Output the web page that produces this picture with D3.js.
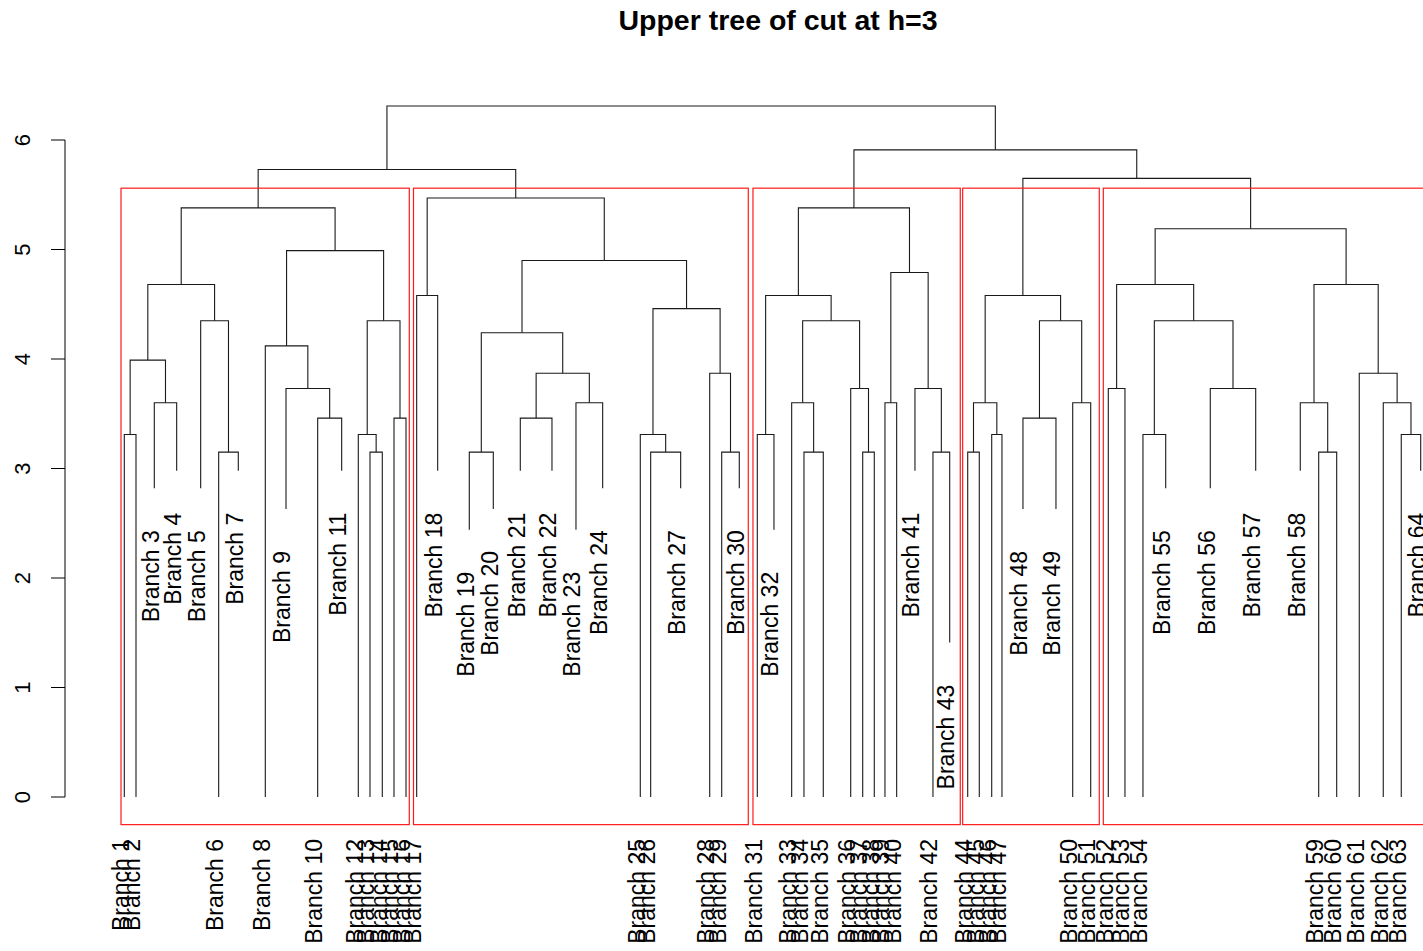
<!DOCTYPE html>
<html><head><meta charset="utf-8">
<script src="https://cdn.jsdelivr.net/npm/d3@7"></script>
<style>body{margin:0;background:#fff} svg{display:block}</style>
</head><body>
<svg id="chart" width="1423" height="951"></svg>
<script>
// ---------------- data ----------------
const chartTitle = "Upper tree of cut at h=3";
const leafNames = d3.range(1, 65).map(i => "Branch " + i);
// leaf positions along the x axis (member units)
const leafPos = [
  1.0, 2.95, 6.0, 9.73, 13.73, 16.73, 20.0, 24.5, 27.95, 33.23,
  37.23, 40.0, 41.95, 44.0, 45.95, 47.95, 49.73, 53.23, 58.5, 62.5,
  67.0, 72.28, 76.28, 80.73, 87.0, 88.73, 93.73, 98.57, 100.57, 103.5,
  106.5, 109.28, 112.23, 114.28, 117.5, 122.07, 124.07, 126.0, 127.78, 129.73,
  132.78, 135.78, 138.57, 141.57, 143.5, 145.57, 147.28, 150.78, 156.28, 159.07,
  162.07, 165.0, 167.78, 170.78, 174.57, 182.0, 189.57, 197.0, 200.07, 203.07,
  206.83, 210.83, 213.83, 217.07
];
// leaf (branch) heights
const leafHeight = [
  0, 0, 2.82, 2.98, 2.82, 0, 2.98, 0, 2.63, 0,
  2.98, 0, 0, 0, 0, 0, 0, 2.98, 2.44, 2.63,
  2.98, 2.98, 2.44, 2.82, 0, 0, 2.82, 0, 0, 2.82,
  0, 2.44, 0, 0, 0, 0, 0, 0, 0, 0,
  2.98, 0, 1.41, 0, 0, 0, 0, 2.63, 2.63, 0,
  0, 0, 0, 0, 2.82, 2.82, 2.98, 2.98, 0, 0,
  0, 0, 0, 2.98
];
// merges: [a, b, height]; negative = leaf number, positive = earlier merge number
const merges = [
  [-1, -2, 3.31], [-3, -4, 3.60], [1, 2, 3.99], [-6, -7, 3.15], [-5, 4, 4.35],
  [3, 5, 4.68], [-10, -11, 3.46], [-9, 7, 3.73], [-8, 8, 4.12], [-13, -14, 3.15],
  [-12, 10, 3.31], [-15, -16, 3.46], [11, 12, 4.35], [9, 13, 4.99], [6, 14, 5.38],
  [-17, -18, 4.58], [-19, -20, 3.15], [-21, -22, 3.46], [-23, -24, 3.60], [18, 19, 3.87],
  [17, 20, 4.24], [-26, -27, 3.15], [-25, 22, 3.31], [-29, -30, 3.15], [-28, 24, 3.87],
  [23, 25, 4.46], [21, 26, 4.90], [16, 27, 5.47], [-31, -32, 3.31], [-34, -35, 3.15],
  [-33, 30, 3.60], [-37, -38, 3.15], [-36, 32, 3.73], [31, 33, 4.35], [29, 34, 4.58],
  [-39, -40, 3.60], [-42, -43, 3.15], [-41, 37, 3.73], [36, 38, 4.79], [35, 39, 5.38],
  [-44, -45, 3.15], [-46, -47, 3.31], [41, 42, 3.60], [-48, -49, 3.46], [-50, -51, 3.60],
  [44, 45, 4.35], [43, 46, 4.58], [-52, -53, 3.73], [-54, -55, 3.31], [-56, -57, 3.73],
  [49, 50, 4.35], [48, 51, 4.68], [-59, -60, 3.15], [-58, 53, 3.60], [-63, -64, 3.31],
  [-62, 55, 3.60], [-61, 56, 3.87], [54, 57, 4.68], [52, 58, 5.19], [15, 28, 5.73],
  [47, 59, 5.65], [40, 61, 5.91], [60, 62, 6.31]
];
// cluster rectangles (x in member units) and cut height for their tops
const clusterLeft  = [0.45, 49.2, 105.78, 140.73, 164.17];
const clusterRight = [48.5, 105.0, 140.33, 163.5, 224];
const cutRectTop = 5.56;
const yTicks = [0, 1, 2, 3, 4, 5, 6];

// ---------------- layout ----------------
const svg = d3.select("#chart");
const font = "'Liberation Sans', Arial, Helvetica, sans-serif";
const x = d3.scaleLinear().domain([1, 217.07]).range([124.3, 1420.7]);
const y = d3.scaleLinear().domain([0, 6]).range([797, 140]);
const maxH = d3.max(merges, d => d[2]);
const yBottom = -0.04 * maxH;

// node positions
const nodeX = new Array(merges.length + 1);
const nodeH = new Array(merges.length + 1);
function cx(id) { return id < 0 ? x(leafPos[-id - 1]) : nodeX[id]; }
function ch(id) { return id < 0 ? leafHeight[-id - 1] : nodeH[id]; }
merges.forEach((m, i) => {
  const k = i + 1;
  nodeX[k] = (cx(m[0]) + cx(m[1])) / 2;
  nodeH[k] = m[2];
});

// title
svg.append("text")
  .attr("x", (65 + 1491) / 2).attr("y", 30)
  .attr("text-anchor", "middle")
  .attr("font-family", font).attr("font-weight", "bold").attr("font-size", 28.5)
  .attr("fill", "#000").text(chartTitle);

// y axis
const ax = svg.append("g");
ax.append("line").attr("x1", 65).attr("x2", 65)
  .attr("y1", y(6)).attr("y2", y(0)).attr("stroke", "#000").attr("stroke-width", 1);
yTicks.forEach(t => {
  ax.append("line").attr("x1", 51).attr("x2", 65).attr("y1", y(t)).attr("y2", y(t))
    .attr("stroke", "#000").attr("stroke-width", 1);
  ax.append("text")
    .attr("transform", `translate(30,${y(t)}) rotate(-90)`)
    .attr("text-anchor", "middle")
    .attr("font-family", font).attr("font-size", 22).attr("fill", "#000")
    .text(t);
});

// dendrogram edges
const g = svg.append("g").attr("fill", "none").attr("stroke", "#1a1a1a").attr("stroke-width", 1.1);
merges.forEach((m, i) => {
  const k = i + 1;
  const xa = cx(m[0]), xb = cx(m[1]);
  const p = d3.path();
  p.moveTo(xa, y(ch(m[0])));
  p.lineTo(xa, y(nodeH[k]));
  p.lineTo(xb, y(nodeH[k]));
  p.lineTo(xb, y(ch(m[1])));
  g.append("path").attr("d", p.toString());
});

// leaf labels
const lab = svg.append("g");
leafNames.forEach((name, i) => {
  lab.append("text")
    .attr("transform", `translate(${x(leafPos[i])},${y(leafHeight[i]) + 42}) rotate(-90)`)
    .attr("text-anchor", "end")
    .attr("dy", "4.5")
    .attr("font-family", font).attr("font-size", 23).attr("fill", "#000")
    .text(name);
});

// cluster rectangles
const rg = svg.append("g").attr("fill", "none").attr("stroke", "#ff1a1a").attr("stroke-width", 1.2);
clusterLeft.forEach((l, i) => {
  rg.append("rect")
    .attr("x", x(l)).attr("y", y(cutRectTop))
    .attr("width", x(clusterRight[i]) - x(l))
    .attr("height", y(yBottom) - y(cutRectTop));
});
</script>
</body></html>
